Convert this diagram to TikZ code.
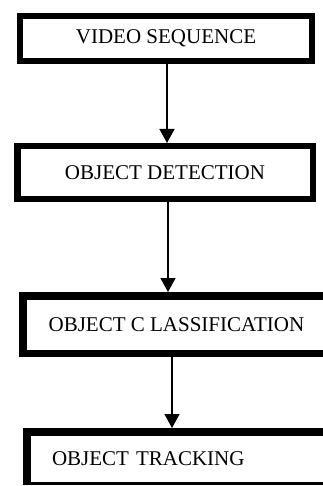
\documentclass[tikz,border=0pt]{standalone}
\usepackage{fontspec}
\setmainfont{Liberation Serif}
\usetikzlibrary{arrows.meta}
\tikzset{
  stage/.style={draw, fill=white, inner sep=0pt, font=\fontsize{21}{25}\selectfont},
  flow/.style={line width=1.3pt, -{Triangle[length=14pt,width=15pt]}}
}
\begin{document}
\begin{tikzpicture}[x=1pt,y=-1pt]
\useasboundingbox (0,0) rectangle (323,486);
\clip (0,0) rectangle (323,484);

\node[stage, line width=6pt, minimum width=292pt, minimum height=45pt] (b1) at (166,38.5) {VIDEO SEQUENCE};
\node[stage, line width=6.5pt, minimum width=295.5pt, minimum height=52.5pt] (b2) at (165,172.5) {OBJECT DETECTION};
\node[stage, line width=7.5pt, minimum width=307.25pt, minimum height=57.5pt] (b3) at (176.4,324.5) {OBJECT C LASSIFICATION};
\node[stage, line width=8pt, minimum height=54pt, text width=263pt, inner xsep=25pt, align=left] (b4) at (183.5,459) {\raisebox{-3pt}{OBJECT TRACKING}};

\path
([xshift=1pt]b1.south) edge[flow] ([xshift=1pt]b1.south |- b2.north)
([xshift=3pt]b2.south) edge[flow] ([xshift=3pt]b2.south |- b3.north)
([xshift=-4.4pt]b3.south) edge[flow] ([xshift=-4.4pt]b3.south |- b4.north);
\end{tikzpicture}
\end{document}
